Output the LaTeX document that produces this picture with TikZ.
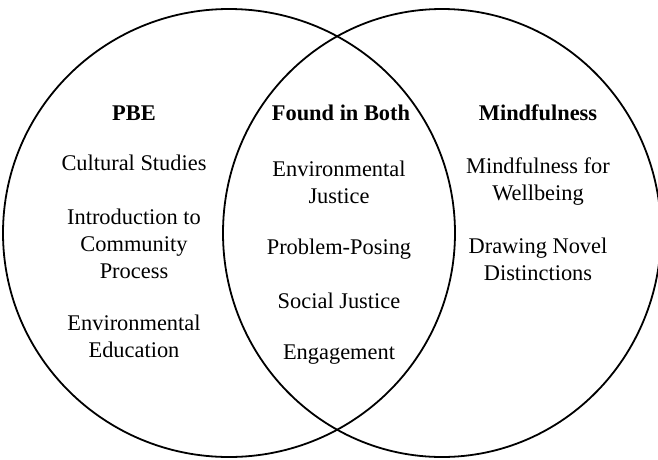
\documentclass[tikz,border=0pt]{standalone}
\usepackage{fontspec}
\setmainfont{Liberation Serif}
\begin{document}
\begin{tikzpicture}[x=1pt,y=-1pt,
  ring/.style={draw=black,line width=1.8pt},
  item/.style={font=\fontsize{22.4}{27}\selectfont,align=center,inner sep=0pt},
  head/.style={item,font=\fontsize{22.4}{27}\selectfont\bfseries}]
\useasboundingbox (0,0) rectangle (658,459);
% the two overlapping sets
\draw[ring] (229,233) ellipse [x radius=226, y radius=224];
\draw[ring] (442,233) ellipse [x radius=219, y radius=224];
% left set
\node[head] (pbe) at (134,113) {PBE};
\node[item] (cult) at (134,163) {Cultural Studies};
\node[item] (intro) at (134,244) {Introduction to\\Community\\Process};
\node[item] (enved) at (134,336) {Environmental\\Education};
% overlap
\node[head] (both) at (341,113) {Found in Both};
\node[item] (envjus) at (339,182) {Environmental\\Justice};
\node[item] (prob) at (339,249) {Problem-Posing};
\node[item] (soc) at (339,301) {Social Justice};
\node[item] (eng) at (339,355) {Engagement};
% right set
\node[head] (mind) at (538,113) {Mindfulness};
\node[item] (well) at (538,182) {Mindfulness for\\Wellbeing};
\node[item] (draw) at (538,259) {Drawing Novel\\Distinctions};
\end{tikzpicture}
\end{document}
